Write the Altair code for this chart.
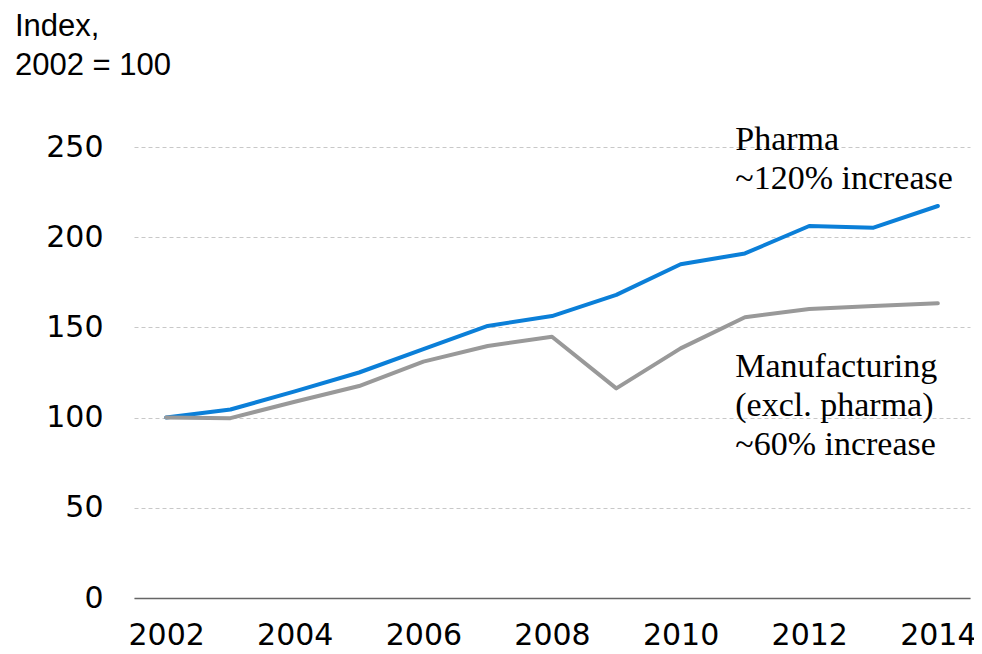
import altair as alt
import pandas as pd

years = list(range(2002, 2015))
pharma = [100, 104.5, 114.5, 125, 138, 150.8, 156.3, 168, 185, 191, 206.2, 205.3, 217.3]
manuf = [100, 99.7, 108.8, 117.5, 131, 139.7, 144.8, 116.2, 138.4, 155.6, 160.2, 161.9, 163.4]
series_names = ["Pharma", "Manufacturing (excl. pharma)"]
series_colors = ["#0B7FD8", "#999999"]

ann_text = [["Pharma", "~120% increase"],
            ["Manufacturing", "(excl. pharma)", "~60% increase"]]
ann_x = [2010.85, 2010.85]
ann_y = [248.3, 122.5]

x_ticks = list(range(2002, 2015, 2))
y_ticks = [0, 50, 100, 150, 200, 250]

rows = []
for name, vals in zip(series_names, [pharma, manuf]):
    for yr, v in zip(years, vals):
        rows.append({"year": yr, "value": v, "series": name})
df = pd.DataFrame(rows)

ann = pd.DataFrame({"text": ann_text, "x": ann_x, "y": ann_y})

x_scale = alt.Scale(domain=[2001.5, 2014.5], nice=False, zero=False)
y_scale = alt.Scale(domain=[0, 250], nice=False)

lines = alt.Chart(df).mark_line(strokeWidth=4, strokeCap="round", strokeJoin="round").encode(
    x=alt.X("year:Q", scale=x_scale,
            axis=alt.Axis(values=x_ticks, format="d", title=None, grid=False, ticks=False,
                          domain=True, domainColor="#666666", domainWidth=1.5,
                          labelFont="DejaVu Sans", labelFontSize=30, labelColor="#000000",
                          labelPadding=22)),
    y=alt.Y("value:Q", scale=y_scale,
            axis=alt.Axis(values=y_ticks, title=None, grid=True, gridDash=[4, 3],
                          gridColor="#c8c8c8", gridWidth=1, ticks=False, domain=False,
                          labelFont="DejaVu Sans", labelFontSize=30, labelColor="#000000",
                          labelPadding=31)),
    color=alt.Color("series:N", scale=alt.Scale(domain=series_names, range=series_colors),
                    legend=None),
    detail="series:N",
)

labels = alt.Chart(ann).mark_text(
    align="left", baseline="alphabetic", font="Liberation Serif", fontSize=34,
    lineHeight=39, color="#000000"
).encode(
    x=alt.X("x:Q", scale=x_scale),
    y=alt.Y("y:Q", scale=y_scale),
    text="text",
)

chart = alt.layer(lines, labels).properties(
    width=836, height=451,
    autosize=alt.AutoSizeParams(type="none"),
    padding={"left": 126, "top": 139, "right": 4, "bottom": 48},
    title=alt.TitleParams(
        text=["Index,", "2002 = 100"], anchor="start", frame="group",
        font="Liberation Sans", fontSize=31, fontWeight="normal", color="#000000",
        lineHeight=39, dx=-119, offset=41,
    ),
).configure_view(stroke=None)

chart.save("out.html", embed_options={"renderer": "svg", "actions": False})
